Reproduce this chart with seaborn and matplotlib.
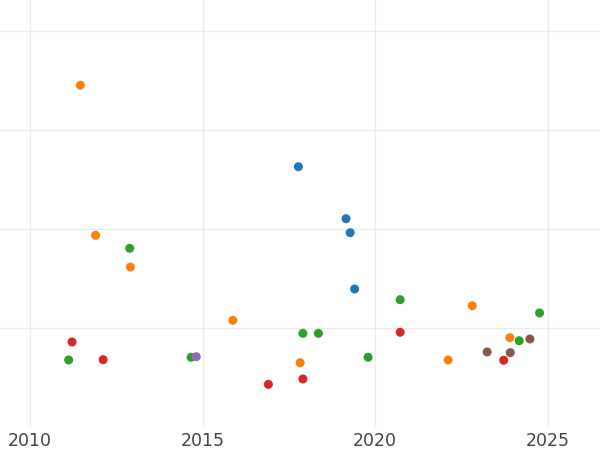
import matplotlib
matplotlib.use("Agg")
import matplotlib.pyplot as plt
import seaborn as sns
import pandas as pd

# Data (years, values)
blue_x = [2017.78, 2019.16, 2019.28, 2019.41]
blue_y = [2.629, 2.104, 1.963, 1.394]
orange_x = [2011.46, 2011.90, 2012.91, 2015.88, 2017.83, 2022.82, 2022.12, 2023.91]
orange_y = [3.452, 1.936, 1.616, 1.078, 0.649, 1.225, 0.677, 0.902]
green_x = [2012.89, 2011.12, 2014.67, 2017.91, 2018.36, 2019.80, 2020.73, 2024.18, 2024.77]
green_y = [1.805, 0.677, 0.704, 0.946, 0.946, 0.704, 1.286, 0.872, 1.152]
red_x = [2011.22, 2012.12, 2016.91, 2017.91, 2020.73, 2023.73]
red_y = [0.859, 0.680, 0.431, 0.485, 0.957, 0.674]
purple_x = [2014.82]
purple_y = [0.710]
brown_x = [2023.25, 2023.92, 2024.49]
brown_y = [0.758, 0.751, 0.889]

groups = ["A", "B", "C", "D", "E", "F"]
colors = ["#1f77b4", "#ff7f0e", "#2ca02c", "#d62728", "#9467bd", "#8c564b"]
xs = [blue_x, orange_x, green_x, red_x, purple_x, brown_x]
ys = [blue_y, orange_y, green_y, red_y, purple_y, brown_y]

rows = []
for g, xx, yy in zip(groups, xs, ys):
    for a, b in zip(xx, yy):
        rows.append({"year": a, "value": b, "group": g})
df = pd.DataFrame(rows)

sns.set_theme(style="whitegrid")
plt.rcParams['font.family'] = ['DejaVu Sans']

fig = plt.figure(figsize=(6, 4.5), dpi=100)
ax = fig.add_axes([0, 23/450, 1, 427/450])
sns.scatterplot(data=df, x="year", y="value", hue="group", hue_order=groups,
                palette=colors, s=42, linewidth=0, legend=False, ax=ax)

ax.set_xlim(2010 - 30/34.5, 2010 + 570/34.5)
ax.set_ylim(0, 427/99)
ax.set_xticks([2010, 2015, 2020, 2025])
ax.set_yticks([1, 2, 3, 4])
ax.set_yticklabels([])
ax.set_xlabel("")
ax.set_ylabel("")
ax.grid(True, color="#ebebeb", linewidth=1)
for sp in ax.spines.values():
    sp.set_visible(False)
ax.tick_params(axis="x", length=0, pad=3.5, labelsize=12.5, labelcolor="#444444")
ax.tick_params(axis="y", length=0)
ax.set_facecolor("white")
fig.patch.set_facecolor("white")

fig.savefig("out.png", dpi=100)
